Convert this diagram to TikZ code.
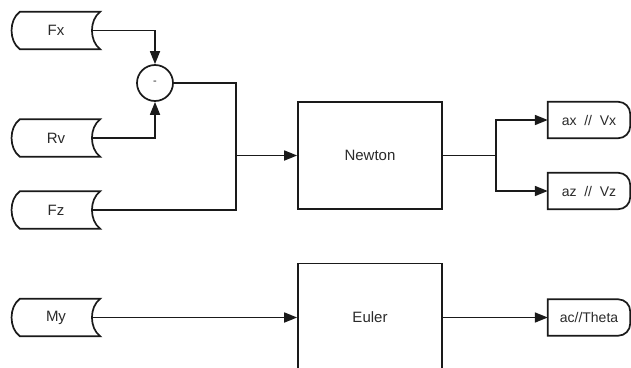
\documentclass[tikz,border=0pt]{standalone}
\usepackage{fontspec}
\setmainfont{Liberation Sans}
\usetikzlibrary{arrows.meta}
\definecolor{txt}{HTML}{2A2A2A}
\definecolor{ln}{HTML}{1A1A1A}
\tikzset{
  base/.style={line width=1.7pt, draw=ln},
  arr/.style={base, -{Triangle[length=13pt,width=10pt]}},
  lnk/.style={base},
  stored/.style={rectangle, draw=none, minimum width=88pt, minimum height=37pt, text=txt, font=\fontsize{15}{17}\selectfont, inner sep=0pt},
  outbox/.style={rectangle, draw=none, minimum width=82pt, minimum height=36pt, text=txt, font=\fontsize{14}{16}\selectfont, inner sep=0pt},
  block/.style={rectangle, base, minimum width=144pt, minimum height=107pt, text=txt, font=\fontsize{15}{17}\selectfont, inner sep=0pt},
  op/.style={circle, base, minimum size=36pt, inner sep=0pt, text=txt, font=\fontsize{11}{12}\selectfont}
}
\begin{document}
\begin{tikzpicture}[x=1pt,y=-1pt]
\useasboundingbox (0,0) rectangle (631,367);
\clip (0,0) rectangle (631,367);
\fill[white] (0,0) rectangle (631,367);
% inputs
\node[stored] (fx) at (56,30.5) {Fx};
\node[stored] (rv) at (56,138) {Rv};
\node[stored] (fz) at (56,210) {Fz};
\node[stored] (my) at (56,317.5) {My};
\foreach \n in {fx,rv,fz,my}{
  \draw[base] ([xshift=8pt]\n.north west) -- (\n.north east)
    .. controls ([xshift=-11pt,yshift=-8pt]\n.north east) and ([xshift=-11pt,yshift=8pt]\n.south east) .. (\n.south east)
    -- ([xshift=8pt]\n.south west)
    .. controls ([xshift=-3pt,yshift=8pt]\n.south west) and ([xshift=-3pt,yshift=-8pt]\n.north west) .. ([xshift=8pt]\n.north west) -- cycle;
}
% operator
\node[op] (minus) at (155,83) {-};
% blocks
\node[block] (newton) at (370,155.5) {Newton};
\node[block, minimum height=108pt] (euler) at (370,317.5) {Euler};
% outputs
\node[outbox] (ax) at (589,120) {ax \ // \ Vx};
\node[outbox] (az) at (589,191) {az \ // \ Vz};
\node[outbox] (ac) at (589,317.5) {ac//Theta};
\foreach \n in {ax,az,ac}{
  \draw[base] (\n.south west) -- (\n.north west) -- ([xshift=-12pt]\n.north east)
    arc[start angle=90, end angle=0, radius=12pt] -- ([yshift=12pt]\n.south east)
    arc[start angle=0, end angle=-90, radius=12pt] -- cycle;
}
% junctions
\coordinate (jn) at (236,155.5);
\coordinate (jo) at (496,155.5);
% connectors
\draw[arr] ([xshift=-8pt]fx.east) -| (minus.north);
\draw[arr] ([xshift=-8pt]rv.east) -| (minus.south);
\draw[lnk] (minus.east) -| (jn);
\draw[lnk] ([xshift=-8pt]fz.east) -| (jn);
\draw[arr] (jn) -- (newton.west);
\draw[lnk] (newton.east) -- (jo);
\draw[arr] (jo) |- (ax.west);
\draw[arr] (jo) |- (az.west);
\draw[arr] ([xshift=-8pt]my.east) -- (euler.west);
\draw[arr] (euler.east) -- (ac.west);
\end{tikzpicture}
\end{document}
